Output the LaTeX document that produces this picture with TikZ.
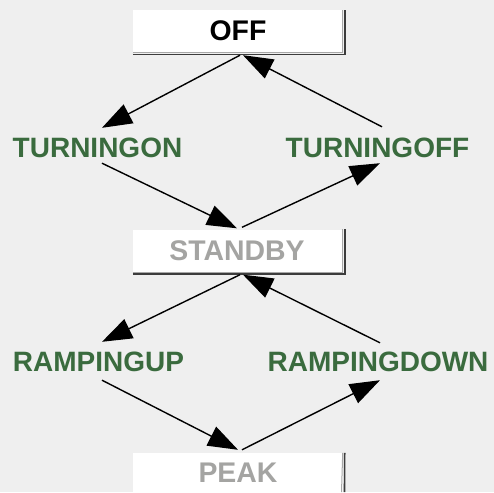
\documentclass[tikz,border=0pt]{standalone}
\usepackage{fontspec}
\setmainfont{Liberation Sans}
\usetikzlibrary{arrows.meta,calc}
\definecolor{bgc}{HTML}{EFEFEF}
\definecolor{lbl}{HTML}{3A6B3E}
\definecolor{dim}{HTML}{A4A4A2}
\definecolor{shd}{HTML}{3C3C3C}
\definecolor{shl}{HTML}{A8A8A8}
\tikzset{
  statebox/.style={fill=white, minimum width=210pt, minimum height=43pt, inner sep=0pt},
  boxtext/.style={font=\bfseries\fontsize{28.4}{28}\selectfont, anchor=base, inner sep=0pt},
  lbltext/.style={font=\bfseries\fontsize{28}{28}\selectfont, text=lbl, anchor=base, inner sep=0pt, text height=20pt, text depth=0pt},
  conn/.style={draw=black, line width=1.4pt, -{Triangle[length=30pt,width=21pt]}, shorten >=0pt}
}
\begin{document}
\begin{tikzpicture}[x=1pt,y=-1pt]
\fill[bgc] (0,0) rectangle (494,492);
\useasboundingbox (0,0) rectangle (494,492);
% boxes
\node[statebox] (offbox) at (238,31.5) {};
\node[statebox] (sbbox) at (238,251) {};
\node[statebox, minimum height=40pt] (pkbox) at (238,473) {};
% box relief
\foreach \b in {offbox,sbbox} {
  \draw[shl, line width=1pt] ($(\b.south west)+(0,-0.5)$) -- ($(\b.south east)+(-0.5,-0.5)$) -- ($(\b.north east)+(-0.5,0)$);
  \draw[shd, line width=1.6pt] ($(\b.south west)+(0,1.5)$) -- ($(\b.south east)+(1.5,1.5)$) -- ($(\b.north east)+(1.5,0)$);
}
\draw[shl, line width=1pt] ($(pkbox.north east)+(-0.5,0)$) -- (341.5,492);
\draw[shd, line width=1.6pt] ($(pkbox.north east)+(1.5,0)$) -- (344.5,492);
% box texts
\node[boxtext, text=black] (off) at (238,41) {OFF};
\node[boxtext, text=dim] (sb) at (237,260) {STANDBY};
\node[boxtext, text=dim] (pk) at (238,482) {PEAK};
% labels
\node[lbltext] (ton) at (97.5,157) {TURNINGON};
\node[lbltext] (toff) at (377.5,157) {TURNINGOFF};
\node[lbltext] (rup) at (98.5,371) {RAMPINGUP};
\node[lbltext] (rdn) at (378,371) {RAMPINGDOWN};
% connectors
\draw[conn] ($(offbox.south)+(2,2)$) -- ($(ton.north)+(4.5,-9)$);
\draw[conn] ($(ton.south)+(4.5,6)$) -- ($(sbbox.north)+(-1,-1)$);
\draw[conn] ($(sbbox.north)+(4,-2)$) -- ($(toff.south)+(2.5,6)$);
\draw[conn] ($(toff.north)+(4.5,-10)$) -- ($(offbox.south)+(5,2)$);
\draw[conn] ($(sbbox.south)+(2,2)$) -- ($(rup.north)+(3.5,-9)$);
\draw[conn] ($(rup.south)+(3.5,9)$) -- ($(pkbox.north)+(0,-3)$);
\draw[conn] ($(pkbox.north)+(4,-3)$) -- ($(rdn.south)+(2,9)$);
\draw[conn] ($(rdn.north)+(2,-8)$) -- ($(sbbox.south)+(5,2)$);
\end{tikzpicture}
\end{document}
